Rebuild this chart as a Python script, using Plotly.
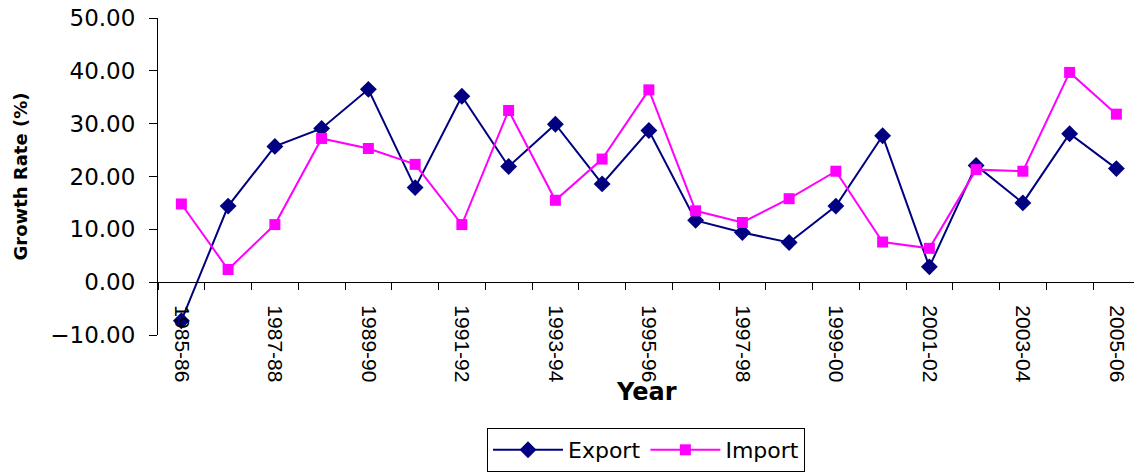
import plotly.graph_objects as go

years = ["1985-86", "1986-87", "1987-88", "1988-89", "1989-90", "1990-91", "1991-92",
         "1992-93", "1993-94", "1994-95", "1995-96", "1996-97", "1997-98", "1998-99",
         "1999-00", "2000-01", "2001-02", "2002-03", "2003-04", "2004-05", "2005-06"]
export_growth = [-7.3, 14.4, 25.7, 29.1, 36.5, 17.9, 35.2, 21.9, 29.9, 18.6, 28.7,
                 11.7, 9.4, 7.5, 14.4, 27.7, 2.9, 22.1, 15.0, 28.1, 21.5]
import_growth = [14.8, 2.4, 10.9, 27.2, 25.3, 22.3, 10.9, 32.5, 15.5, 23.3, 36.4,
                 13.5, 11.3, 15.8, 21.0, 7.6, 6.4, 21.3, 21.0, 39.7, 31.8]
y_ticks = [-10, 0, 10, 20, 30, 40, 50]

xi = list(range(len(years)))
ARIAL = "Arial, 'Liberation Sans', sans-serif"
WIDE = "'DejaVu Sans', Verdana, sans-serif"

fig = go.Figure()
fig.add_trace(go.Scatter(x=xi, y=export_growth, name="Export", mode="lines+markers",
                         line=dict(color="#000080", width=2),
                         marker=dict(symbol="diamond", size=13, color="#000080")))
fig.add_trace(go.Scatter(x=xi, y=import_growth, name="Import", mode="lines+markers",
                         line=dict(color="#FF00FF", width=2),
                         marker=dict(symbol="square", size=11, color="#FF00FF")))

W, H = 1134, 473
L, R, T, B = 158, 0, 18, 138
pw = W - L - R
ph = H - T - B

fig.update_layout(
    width=W, height=H,
    margin=dict(l=L, r=R, t=T, b=B, autoexpand=False),
    paper_bgcolor="white", plot_bgcolor="white",
    font=dict(family=ARIAL, color="black"),
    showlegend=True,
    legend=dict(orientation="h", x=0.5, xanchor="center", y=-(428 - 335) / ph, yanchor="top",
                bordercolor="black", borderwidth=1, font=dict(size=22, family=WIDE),
                itemwidth=70, tracegroupgap=0),
    xaxis=dict(
        range=[-0.5, -0.5 + pw / 46.75],
        anchor="free", position=10 / 60,
        showline=True, linecolor="black", linewidth=1,
        showgrid=False, zeroline=False,
        tickmode="array", tickvals=xi[::2], ticktext=years[::2],
        tickangle=90, ticks="", ticklabelstandoff=18,
        tickfont=dict(size=21, family=ARIAL),
        minor=dict(ticks="outside", tick0=-0.5, dtick=1, ticklen=7, tickcolor="black", showgrid=False),
    ),
    yaxis=dict(
        range=[-10, 50], tickmode="array", tickvals=y_ticks, tickformat=".2f",
        showline=True, linecolor="black", linewidth=1,
        showgrid=False, zeroline=False,
        ticks="outside", ticklen=8, tickcolor="black", ticklabelstandoff=9,
        tickfont=dict(size=23, family=WIDE),
    ),
    annotations=[
        dict(text="<b>Year</b>", xref="paper", yref="paper", x=0.5, y=-(392 - 335) / ph,
             xanchor="center", yanchor="middle", showarrow=False, font=dict(size=24, family=WIDE)),
        dict(text="<b>Growth Rate (%)</b>", xref="paper", yref="paper", x=-(L - 20) / pw, y=0.5,
             xanchor="center", yanchor="middle", textangle=-90, showarrow=False,
             font=dict(size=18, family=WIDE)),
    ],
)

fig.write_html("out.html")
